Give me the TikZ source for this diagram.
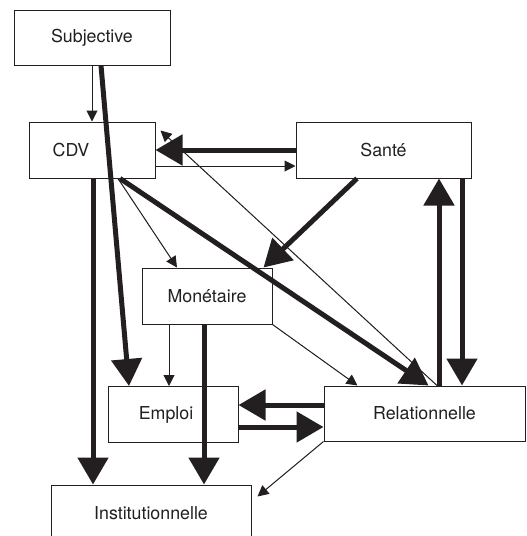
\documentclass[tikz,border=0pt]{standalone}
\usepackage{fontspec}
\setmainfont{TeX Gyre Heros}
\usetikzlibrary{arrows.meta}
\definecolor{ink}{RGB}{35,31,32}
\tikzset{
  box/.style={draw=ink, line width=1pt, fill=white, rectangle, inner sep=0pt,
    text=ink, font=\fontsize{17.8}{20}\selectfont},
  thick arrow/.style={draw=ink, line width=5pt, -{Triangle[width=30pt,length=27pt]}, fill=ink},
  thin arrow/.style={draw=ink, line width=1pt, -{Triangle[width=11pt,length=11pt]}, fill=ink},
}
\begin{document}
\begin{tikzpicture}[x=1pt,y=-1pt]
\useasboundingbox (0,0) rectangle (527,536);
\clip (0,0) rectangle (527,536);
% boxes
\node[box, minimum width=156pt, minimum height=55pt] (subj) at (92,37.5) {Subjective};
\node[box, minimum width=126pt, minimum height=56pt] (cdv) at (92,150) {CDV\hspace*{42pt}};
\node[box, minimum width=175pt, minimum height=56pt] (sante) at (383.5,150) {Santé};
\node[box, minimum width=130pt, minimum height=56pt] (mon) at (207,296) {Monétaire};
\node[box, minimum width=130pt, minimum height=56pt] (emp) at (173,414.5) {Emploi\hspace*{14pt}};
\node[box, minimum width=201pt, minimum height=55pt] (rel) at (424.5,413.5) {Relationnelle};
\node[box, minimum width=200pt, minimum height=56pt] (inst) at (151,513) {Institutionnelle};
% thin arrows
\draw[thin arrow] (subj.south) -- (cdv.north);
\draw[thin arrow] ([yshift=-16pt]cdv.east) -- ([yshift=-16pt]sante.west);
\draw[thin arrow] ([xshift=12.5pt]rel.north) -- ([xshift=5pt,yshift=-9pt]cdv.north east);
\draw[thin arrow] ([xshift=26pt]cdv.south) -- ([xshift=-30pt]mon.north);
\draw[thin arrow] ([xshift=-38pt]mon.south) -- ([xshift=-4pt]emp.north);
\draw[thin arrow] (mon.south east) -- ([xshift=34pt]rel.north west);
\draw[thin arrow] (rel.south west) -- ([xshift=6pt,yshift=-12pt]inst.north east);
% thick arrows
\draw[thick arrow] ([xshift=9pt]subj.south) -- ([xshift=-44pt]emp.north);
\draw[thick arrow] (sante.west) -- (cdv.east);
\draw[thick arrow] ([xshift=28pt]cdv.south) -- ([xshift=4pt]rel.north);
\draw[thick arrow] ([xshift=1pt]cdv.south) -- ([xshift=-58pt]inst.north);
\draw[thick arrow] ([xshift=-26.5pt]sante.south) -- ([xshift=-9pt]mon.north east);
\draw[thick arrow] ([xshift=14.5pt]rel.north) -- ([xshift=55.5pt]sante.south);
\draw[thick arrow] ([xshift=78.5pt]sante.south) -- ([xshift=37.5pt]rel.north);
\draw[thick arrow] ([xshift=-3pt]mon.south) -- ([xshift=53pt]inst.north);
\draw[thick arrow] ([yshift=8.5pt]rel.west) -- ([yshift=9.5pt]emp.east);
\draw[thick arrow] ([yshift=-12.5pt]emp.east) -- ([yshift=-13.5pt]rel.west);
\end{tikzpicture}
\end{document}
